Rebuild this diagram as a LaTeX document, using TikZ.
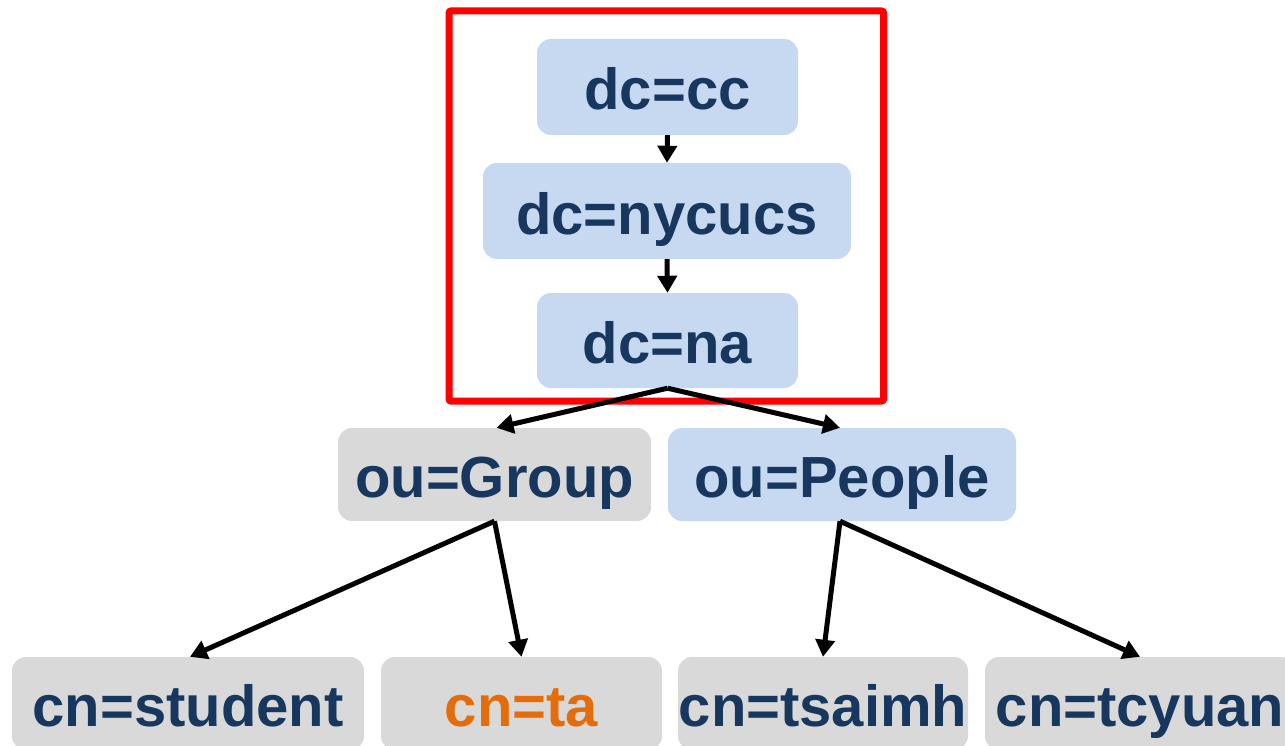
\documentclass[tikz,border=0pt]{standalone}
\usepackage{fontspec}
\setmainfont{Liberation Sans}
\usetikzlibrary{arrows.meta}
\definecolor{txtblue}{RGB}{23,55,94}
\definecolor{boxblue}{RGB}{198,217,241}
\definecolor{boxgray}{RGB}{217,217,217}
\definecolor{taorange}{RGB}{228,108,10}
\tikzset{
  entry/.style={rounded corners=14pt, inner sep=0pt, text height=50pt, text depth=4pt,
    font=\fontsize{58}{60}\selectfont\bfseries, text=txtblue, minimum height=94pt},
  bluebox/.style={entry, fill=boxblue},
  graybox/.style={entry, fill=boxgray},
  link/.style={draw=black, line width=5pt, -{Triangle[length=17pt,width=19pt]}},
  frame/.style={draw=red, line width=7pt, rounded corners=2pt}
}
\begin{document}
\begin{tikzpicture}[x=1pt,y=-1pt]
\clip (0,0) rectangle (1285,746);
\fill[white] (0,0) rectangle (1285,746);

% domain components
\draw[frame] (449,11) rectangle (883.5,401);

\node[bluebox, minimum width=261pt, minimum height=96pt] (cc)  at (667.5,87)  {dc=cc};
\node[bluebox, minimum width=368pt, minimum height=96pt] (nyc) at (667,211)   {dc=nycucs};
\node[bluebox, minimum width=261pt, minimum height=95pt] (na)  at (667.5,340.5) {dc=na};

% organizational units
\node[graybox, minimum width=313pt, minimum height=93pt] (grp) at (494.5,474.5) {ou=Group};
\node[bluebox, minimum width=348pt, minimum height=93pt] (ppl) at (842,474.5)   {ou=People};

% entries
\node[graybox, minimum width=352pt, minimum height=93pt] (stu) at (188,703.5)   {cn=student};
\node[graybox, minimum width=281pt, minimum height=93pt, text=taorange] (ta) at (521.5,703.5) {cn=ta};
\node[graybox, minimum width=290pt, minimum height=93pt] (tsa) at (823,703.5)   {cn=tsaimh};
\node[graybox, minimum width=310pt, minimum height=93pt] (tcy) at (1140,703.5)  {cn=tcyuan};

% tree links
\draw[link] (cc.south) -- (nyc.north);
\draw[link] (nyc.south) -- (na.north);
\draw[link] (na.south) -- ([xshift=2pt]grp.north);
\draw[link] (na.south) -- ([xshift=-2pt]ppl.north);
\draw[link] (grp.south) -- ([xshift=2pt]stu.north);
\draw[link] (grp.south) -- (ta.north);
\draw[link] ([xshift=-2pt]ppl.south) -- (tsa.north);
\draw[link] ([xshift=-2pt]ppl.south) -- (tcy.north);
\end{tikzpicture}
\end{document}
